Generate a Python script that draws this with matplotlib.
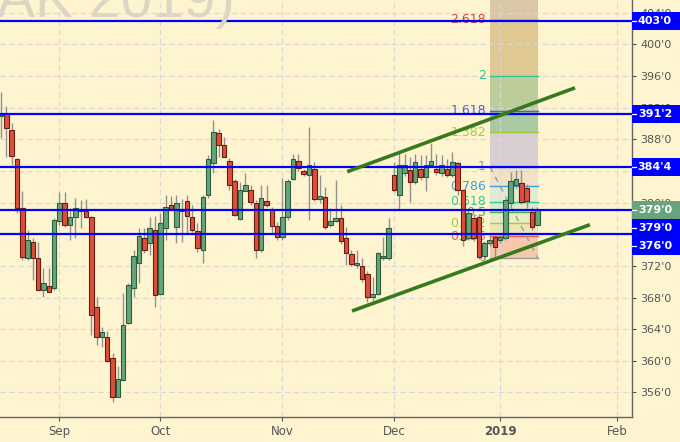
import matplotlib

matplotlib.use("Agg")

import matplotlib.pyplot as plt
import numpy as np
import pandas as pd
from matplotlib.patches import Rectangle
from matplotlib.transforms import blended_transform_factory

# daily candles, Aug 17 2018 .. Jan 11 2019 (prices in cents)
opens = [
    391.0, 391.2, 389.2, 385.5, 379.3, 372.95, 375.05, 372.95, 369.0, 369.5,
    369.25, 377.65, 379.9, 377.15, 378.2, 378.95, 378.9, 378.2, 366.75, 363.05,
    363.05, 360.3, 355.45, 357.55, 364.75, 369.2, 372.3, 375.5, 374.85, 376.5,
    368.5, 376.75, 379.7, 376.95, 378.9, 380.25, 378.2, 376.45, 374.0, 381.0,
    384.95, 388.85, 387.25, 385.25, 382.7, 377.9, 381.5, 381.6, 380.0, 374.0,
    380.2, 379.0, 377.0, 375.7, 378.2, 383.0, 385.25, 384.0, 383.5, 384.2,
    380.4, 380.75, 377.15, 377.7, 378.0, 375.5, 373.5, 372.15, 372.0, 370.95,
    368.1, 368.5, 372.95, 373.0, 383.5, 380.95, 383.7, 384.1, 382.65, 384.3,
    383.25, 384.8, 384.2, 383.7, 384.2, 383.5, 385.0, 381.6, 375.5, 378.1,
    378.2, 373.25, 374.9, 375.6, 375.3, 375.5, 380.0, 382.2, 382.5, 381.9,
    378.85, 377.15,
]
highs = [
    394.0, 392.2, 390.05, 385.6, 381.4, 376.5, 375.5, 375.05, 371.7, 371.75,
    378.1, 381.3, 381.3, 379.35, 380.55, 380.3, 380.5, 378.3, 368.1, 364.3,
    363.8, 360.95, 359.4, 368.6, 369.8, 374.0, 376.75, 376.75, 378.2, 378.3,
    378.7, 380.95, 380.8, 380.95, 380.5, 380.95, 379.7, 377.4, 381.0, 386.0,
    390.4, 389.25, 388.25, 385.6, 383.0, 382.6, 383.7, 382.2, 380.3, 382.2,
    382.2, 379.4, 377.6, 383.05, 383.0, 386.2, 386.2, 384.3, 389.6, 385.15,
    383.5, 382.0, 379.3, 382.9, 379.7, 376.95, 374.0, 374.0, 373.0, 371.3,
    370.6, 373.7, 375.7, 378.0, 385.15, 386.4, 386.2, 385.8, 386.2, 386.0,
    386.0, 387.5, 386.2, 386.0, 385.5, 386.4, 385.1, 381.7, 379.0, 378.6,
    378.5, 375.2, 376.0, 376.2, 376.0, 380.4, 383.9, 384.1, 384.1, 382.4,
    379.5, 379.5,
]
lows = [
    388.2, 385.8, 384.7, 378.65, 372.7, 372.7, 370.2, 368.9, 368.1, 368.7,
    368.95, 377.2, 376.9, 375.3, 375.55, 376.75, 378.0, 363.3, 362.0, 361.75,
    359.9, 354.8, 355.45, 357.5, 364.65, 368.1, 369.8, 373.6, 373.4, 366.8,
    368.3, 375.3, 379.05, 374.9, 375.0, 376.2, 376.3, 373.8, 372.3, 380.55,
    383.7, 385.8, 385.7, 381.6, 378.3, 377.75, 381.4, 379.7, 372.95, 373.8,
    379.5, 376.1, 375.25, 375.25, 377.8, 382.8, 384.0, 383.3, 377.8, 380.2,
    380.0, 376.7, 376.9, 377.5, 374.8, 372.1, 372.0, 371.7, 370.0, 367.45,
    367.45, 368.3, 372.8, 372.8, 381.3, 379.1, 383.4, 380.1, 382.4, 382.8,
    381.4, 384.5, 383.5, 383.4, 383.2, 383.2, 381.0, 374.5, 375.3, 375.2,
    372.9, 372.9, 374.5, 373.0, 374.9, 375.3, 379.6, 381.9, 379.8, 379.3,
    376.5, 377.0,
]
closes = [
    391.1, 389.4, 385.9, 379.3, 373.15, 375.25, 373.0, 369.0, 369.8, 368.7,
    377.8, 380.0, 377.15, 378.2, 379.35, 378.9, 378.2, 365.8, 363.05, 363.6,
    360.0, 355.4, 357.65, 364.5, 369.55, 373.25, 375.75, 374.0, 376.75, 368.3,
    377.4, 379.4, 379.25, 379.9, 379.15, 378.25, 376.5, 374.3, 380.75, 385.45,
    388.95, 387.25, 385.7, 382.2, 378.4, 381.65, 382.2, 380.1, 374.0, 380.55,
    379.7, 377.0, 375.7, 378.2, 382.7, 385.5, 384.4, 383.6, 384.75, 380.4,
    380.8, 376.95, 377.7, 378.0, 375.15, 373.65, 372.2, 372.3, 370.3, 368.1,
    368.4, 373.65, 373.25, 376.75, 381.65, 384.75, 384.75, 382.65, 385.15, 383.25,
    384.75, 385.25, 383.9, 384.75, 383.5, 385.15, 381.6, 375.25, 378.65, 375.5,
    373.15, 374.85, 375.3, 374.35, 375.7, 380.3, 382.75, 382.95, 380.1, 380.2,
    376.95, 379.0,
]

first_session = "2018-08-17"
last_session = "2019-02-08"
exchange_holidays = ["2018-09-03", "2018-11-22", "2018-12-25", "2019-01-01"]

# horizontal support / resistance levels
level_prices = [403.0, 391.25, 384.5, 379.0, 376.0]
last_price = 379.0

# fibonacci extension drawn over the last two weeks
fib_start = "2018-12-28"
fib_end = "2019-01-11"
fib_zero = 373.0
fib_one = 384.5
fib_ratios = [0, 0.236, 0.382, 0.5, 0.618, 0.786, 1, 1.382, 1.618, 2, 2.618]
fib_labels = ["0", "0.236", "0.382", "0.5", "0.618", "0.786", "1", "1.382", "1.618", "2", "2.618"]
fib_line_colors = ["#9a9a9a", "#e8604c", "#a2cc3a", "#4cb050", "#2fc896", "#3aa0dc",
                   "#9a9a9a", "#a2cc3a", "#5a5ad0", "#2fc896", "#d9453c"]
fib_band_colors = ["#f6c7aa", "#f0e6b4", "#e6eec2", "#dcecc8", "#e2ead2", "#f1e1c6",
                   "#d8cdd0", "#a9c9a2", "#bccd9a", "#dfc891", "#dac7a6"]

# trend channel (bar position, price)
upper_trend_x = [65.2, 108.1]
upper_trend_y = [383.9, 394.5]
lower_trend_x = [66.1, 110.9]
lower_trend_y = [366.3, 377.2]

price_ticks = list(range(356, 405, 4))

BG = "#fff4d0"
GRID = "#d9d8d6"
TEXT = "#555555"
UP_FILL, UP_EDGE = "#66a47c", "#2c5e3e"
DN_FILL, DN_EDGE = "#dc4f3a", "#6a1c12"


def fmt_price(p):
    whole = int(np.floor(p))
    eighths = int(round((p - whole) * 8))
    return f"{whole}'{eighths}"


def main():
    sessions = pd.bdate_range(first_session, last_session, freq="C", holidays=exchange_holidays)
    pos = {d: i for i, d in enumerate(sessions)}

    month_idx, month_lab = [], []
    for i in range(1, len(sessions)):
        if sessions[i].month != sessions[i - 1].month:
            month_idx.append(i)
            month_lab.append("2019" if sessions[i].month == 1 else sessions[i].strftime("%b"))

    fig = plt.figure(figsize=(6.8, 4.42), dpi=100)
    fig.patch.set_facecolor(BG)
    ax = fig.add_axes([0.0, 25 / 442, 632 / 680, 417 / 442])
    ax.set_facecolor(BG)
    ax.set_xlim(-0.19, 118.83)
    ax.set_ylim(352.9, 405.6)

    # watermark
    fig.text(235 / 680, 1 - 17 / 442, "AK 2019)", ha="right", va="baseline",
             fontsize=41, color="#ddd6c3", family="Liberation Sans", zorder=0)

    # grid
    for p in price_ticks:
        ax.axhline(p, color=GRID, lw=0.8, ls=(0, (5, 3)), zorder=1.5)
    for i in month_idx:
        ax.axvline(i, color=GRID, lw=0.8, ls=(0, (5, 3)), zorder=1.5)

    # fibonacci block
    x0 = pos[pd.Timestamp(fib_start)] + 0.1
    x1 = pos[pd.Timestamp(fib_end)] + 0.1
    rng = fib_one - fib_zero
    fib_prices = [fib_zero + r * rng for r in fib_ratios]
    tops = fib_prices[1:] + [405.6]
    for lo, hi, col in zip(fib_prices, tops, fib_band_colors):
        ax.add_patch(Rectangle((x0, lo), x1 - x0, hi - lo, facecolor=col, edgecolor="none", zorder=1))
    for p, lab, col in zip(fib_prices, fib_labels, fib_line_colors):
        ax.plot([x0, x1], [p, p], color=col, lw=1.0, zorder=2)
        ax.annotate(lab, (x0, p), xytext=(-3, 0), textcoords="offset points",
                    ha="right", va="center", fontsize=9, color=col, zorder=2.5)
    ax.plot([x0, x1], [fib_one, fib_zero], color="#9a9a9a", lw=1.0, ls=(0, (4, 4)), zorder=2)

    # candles
    o = np.array(opens)
    h = np.array(highs)
    lo_ = np.array(lows)
    c = np.array(closes)
    x = np.arange(len(o))
    up = c >= o
    ax.vlines(x, lo_, h, color="#929292", lw=1.0, zorder=3)
    bottom = np.minimum(o, c)
    height = np.maximum(np.abs(c - o), 0.12)
    ax.bar(x[up], height[up], bottom=bottom[up], width=0.86, color=UP_FILL,
           edgecolor=UP_EDGE, lw=0.8, zorder=4)
    ax.bar(x[~up], height[~up], bottom=bottom[~up], width=0.86, color=DN_FILL,
           edgecolor=DN_EDGE, lw=0.8, zorder=4)

    # levels and trend channel
    for p in level_prices:
        ax.axhline(p, color="#0000ff", lw=1.6, zorder=5)
    ax.plot(upper_trend_x, upper_trend_y, color="#357a1c", lw=2.6, solid_capstyle="butt", zorder=6)
    ax.plot(lower_trend_x, lower_trend_y, color="#357a1c", lw=2.6, solid_capstyle="butt", zorder=6)

    # axes styling
    for side in ("left", "top"):
        ax.spines[side].set_visible(False)
    for side in ("right", "bottom"):
        ax.spines[side].set_color("#666666")
        ax.spines[side].set_linewidth(1.0)
    ax.yaxis.tick_right()
    ax.set_yticks(price_ticks)
    ax.set_yticklabels([fmt_price(p) for p in price_ticks])
    ax.tick_params(axis="y", colors=TEXT, labelsize=8, length=3, pad=3, width=0.8)
    ax.set_xticks(month_idx)
    ax.set_xticklabels(month_lab)
    ax.tick_params(axis="x", colors=TEXT, labelsize=8.5, length=3, pad=3, width=0.8)
    for lab in ax.get_xticklabels():
        if lab.get_text() == "2019":
            lab.set_fontweight("bold")

    # price boxes on the right axis, pushed down when they collide
    fig.canvas.draw()
    trans = blended_transform_factory(ax.transAxes, ax.transData)
    box_h_px = 18.0
    px_per_unit = ax.transData.transform((0, 1))[1] - ax.transData.transform((0, 0))[1]
    box_h = box_h_px / px_per_unit
    boxes = [(p, "#0000ff") for p in level_prices[:3]] + [(last_price, "#68a37e")] + \
            [(p, "#0000ff") for p in level_prices[3:]]
    prev = None
    for p, col in boxes:
        yc = p
        if prev is not None and prev - yc < box_h:
            yc = prev - box_h
        ax.add_patch(Rectangle((1.0, yc - box_h / 2), 50 / 632, box_h, transform=trans,
                               facecolor=col, edgecolor="none", clip_on=False, zorder=7))
        ax.plot([1.0, 1.0 + 4 / 632], [yc, yc], transform=trans, color="white", lw=0.9,
                clip_on=False, zorder=8)
        ax.text(655 / 632, yc, fmt_price(p), transform=trans, ha="center", va="center",
                fontsize=8, color="white", fontweight="bold", clip_on=False, zorder=8)
        prev = yc

    fig.savefig("out.png", dpi=100, facecolor=fig.get_facecolor())
    plt.close(fig)


if __name__ == "__main__":
    main()
